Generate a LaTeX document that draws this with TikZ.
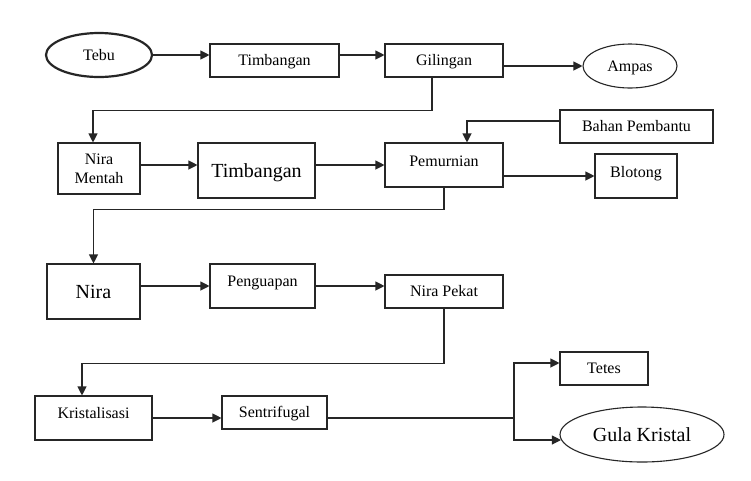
\documentclass[tikz,border=0pt]{standalone}
\usepackage{fontspec}
\setmainfont{Liberation Serif}
\usetikzlibrary{arrows.meta,shapes.geometric}
\tikzset{
  base/.style={draw=black!85, line width=1.1pt, inner sep=0pt, text height=10.6pt, text depth=0pt, font=\fontsize{16}{19}\selectfont},
  box/.style={base, rectangle},
  oval/.style={base, ellipse},
  big/.style={font=\fontsize{20}{24}\selectfont, text height=13.2pt},
  arr/.style={draw=black!85, line width=1.1pt, -{Triangle[length=9pt,width=9pt]}},
  ln/.style={draw=black!85, line width=1.1pt}
}
\begin{document}
\begin{tikzpicture}[x=1pt,y=-1pt]
\useasboundingbox[fill=white] (0,0) rectangle (751,480);
% nodes
\node[oval, line width=2.2pt, minimum width=106, minimum height=44] (tebu) at (99,55) {Tebu};
\node[box, minimum width=129, minimum height=33] (tim1) at (274.5,60.5) {Timbangan};
\node[box, minimum width=118, minimum height=33] (gil) at (444,60.5) {Gilingan};
\node[oval, minimum width=94, minimum height=44] (ampas) at (630,66) {Ampas};
\node[box, minimum width=82, minimum height=51, align=center, text height=, text depth=] (niram) at (99,168.5) {Nira\\Mentah};
\node[box, big, minimum width=117, minimum height=55] (tim2) at (256.5,170.5) {Timbangan};
\node[box, minimum width=118, minimum height=44] (pem) at (444,165) {\raisebox{4pt}{Pemurnian}};
\node[box, minimum width=153, minimum height=33] (bahan) at (636.5,126.5) {Bahan Pembantu};
\node[box, minimum width=82, minimum height=44] (blot) at (636,176) {\raisebox{4pt}{Blotong}};
\node[box, big, minimum width=93, minimum height=55] (nira) at (93.5,291.5) {Nira};
\node[box, minimum width=105, minimum height=44] (peng) at (262.5,286) {\raisebox{5pt}{Penguapan}};
\node[box, minimum width=118, minimum height=33] (nirap) at (444,291.5) {Nira Pekat};
\node[box, minimum width=117, minimum height=44] (kris) at (93.5,418) {\raisebox{5pt}{Kristalisasi}};
\node[box, minimum width=105, minimum height=33] (sent) at (274.5,412.5) {Sentrifugal};
\node[box, minimum width=88, minimum height=33] (tetes) at (604,368.5) {Tetes};
\node[oval, big, minimum width=164, minimum height=55] (gula) at (642,434.5) {Gula Kristal};
% helper coordinates
\coordinate (r2) at (0,165);
\coordinate (b1) at (467,121);
\coordinate (sp) at (514,418);
\coordinate (tt) at (0,363);
\coordinate (gg) at (0,440);
% connectors
\draw[arr] (tebu.east) -- (tebu.east -| tim1.west);
\draw[arr] (tim1.east |- tebu.east) -- (gil.west |- tebu.east);
\draw[arr] (gil.east |- ampas.west) -- (ampas.west);
\draw[arr] ([xshift=-12pt]gil.south) -- ++(0,33) -| ([xshift=-6pt]niram.north);
\draw[arr] (niram.east |- r2) -- (tim2.west |- r2);
\draw[arr] (tim2.east |- r2) -- (pem.west |- r2);
\draw[arr] (bahan.west |- b1) -| (pem.north -| b1);
\draw[arr] (pem.east |- blot.west) -- (blot.west);
\draw[arr] (pem.south) -- ++(0,22) -| (nira.north);
\draw[arr] (nira.east |- peng.west) -- (peng.west);
\draw[arr] (peng.east) -- (peng.east -| nirap.west);
\draw[arr] (nirap.south) -- ++(0,55) -| ([xshift=-11.5pt]kris.north);
\draw[arr] (kris.east) -- (kris.east -| sent.west);
\draw[ln] (sent.east |- sp) -- (sp);
\draw[arr] (sp) |- (tetes.west |- tt);
\draw[arr] (sp) |- ([xshift=1.5pt]gula.west |- gg);
\end{tikzpicture}
\end{document}
